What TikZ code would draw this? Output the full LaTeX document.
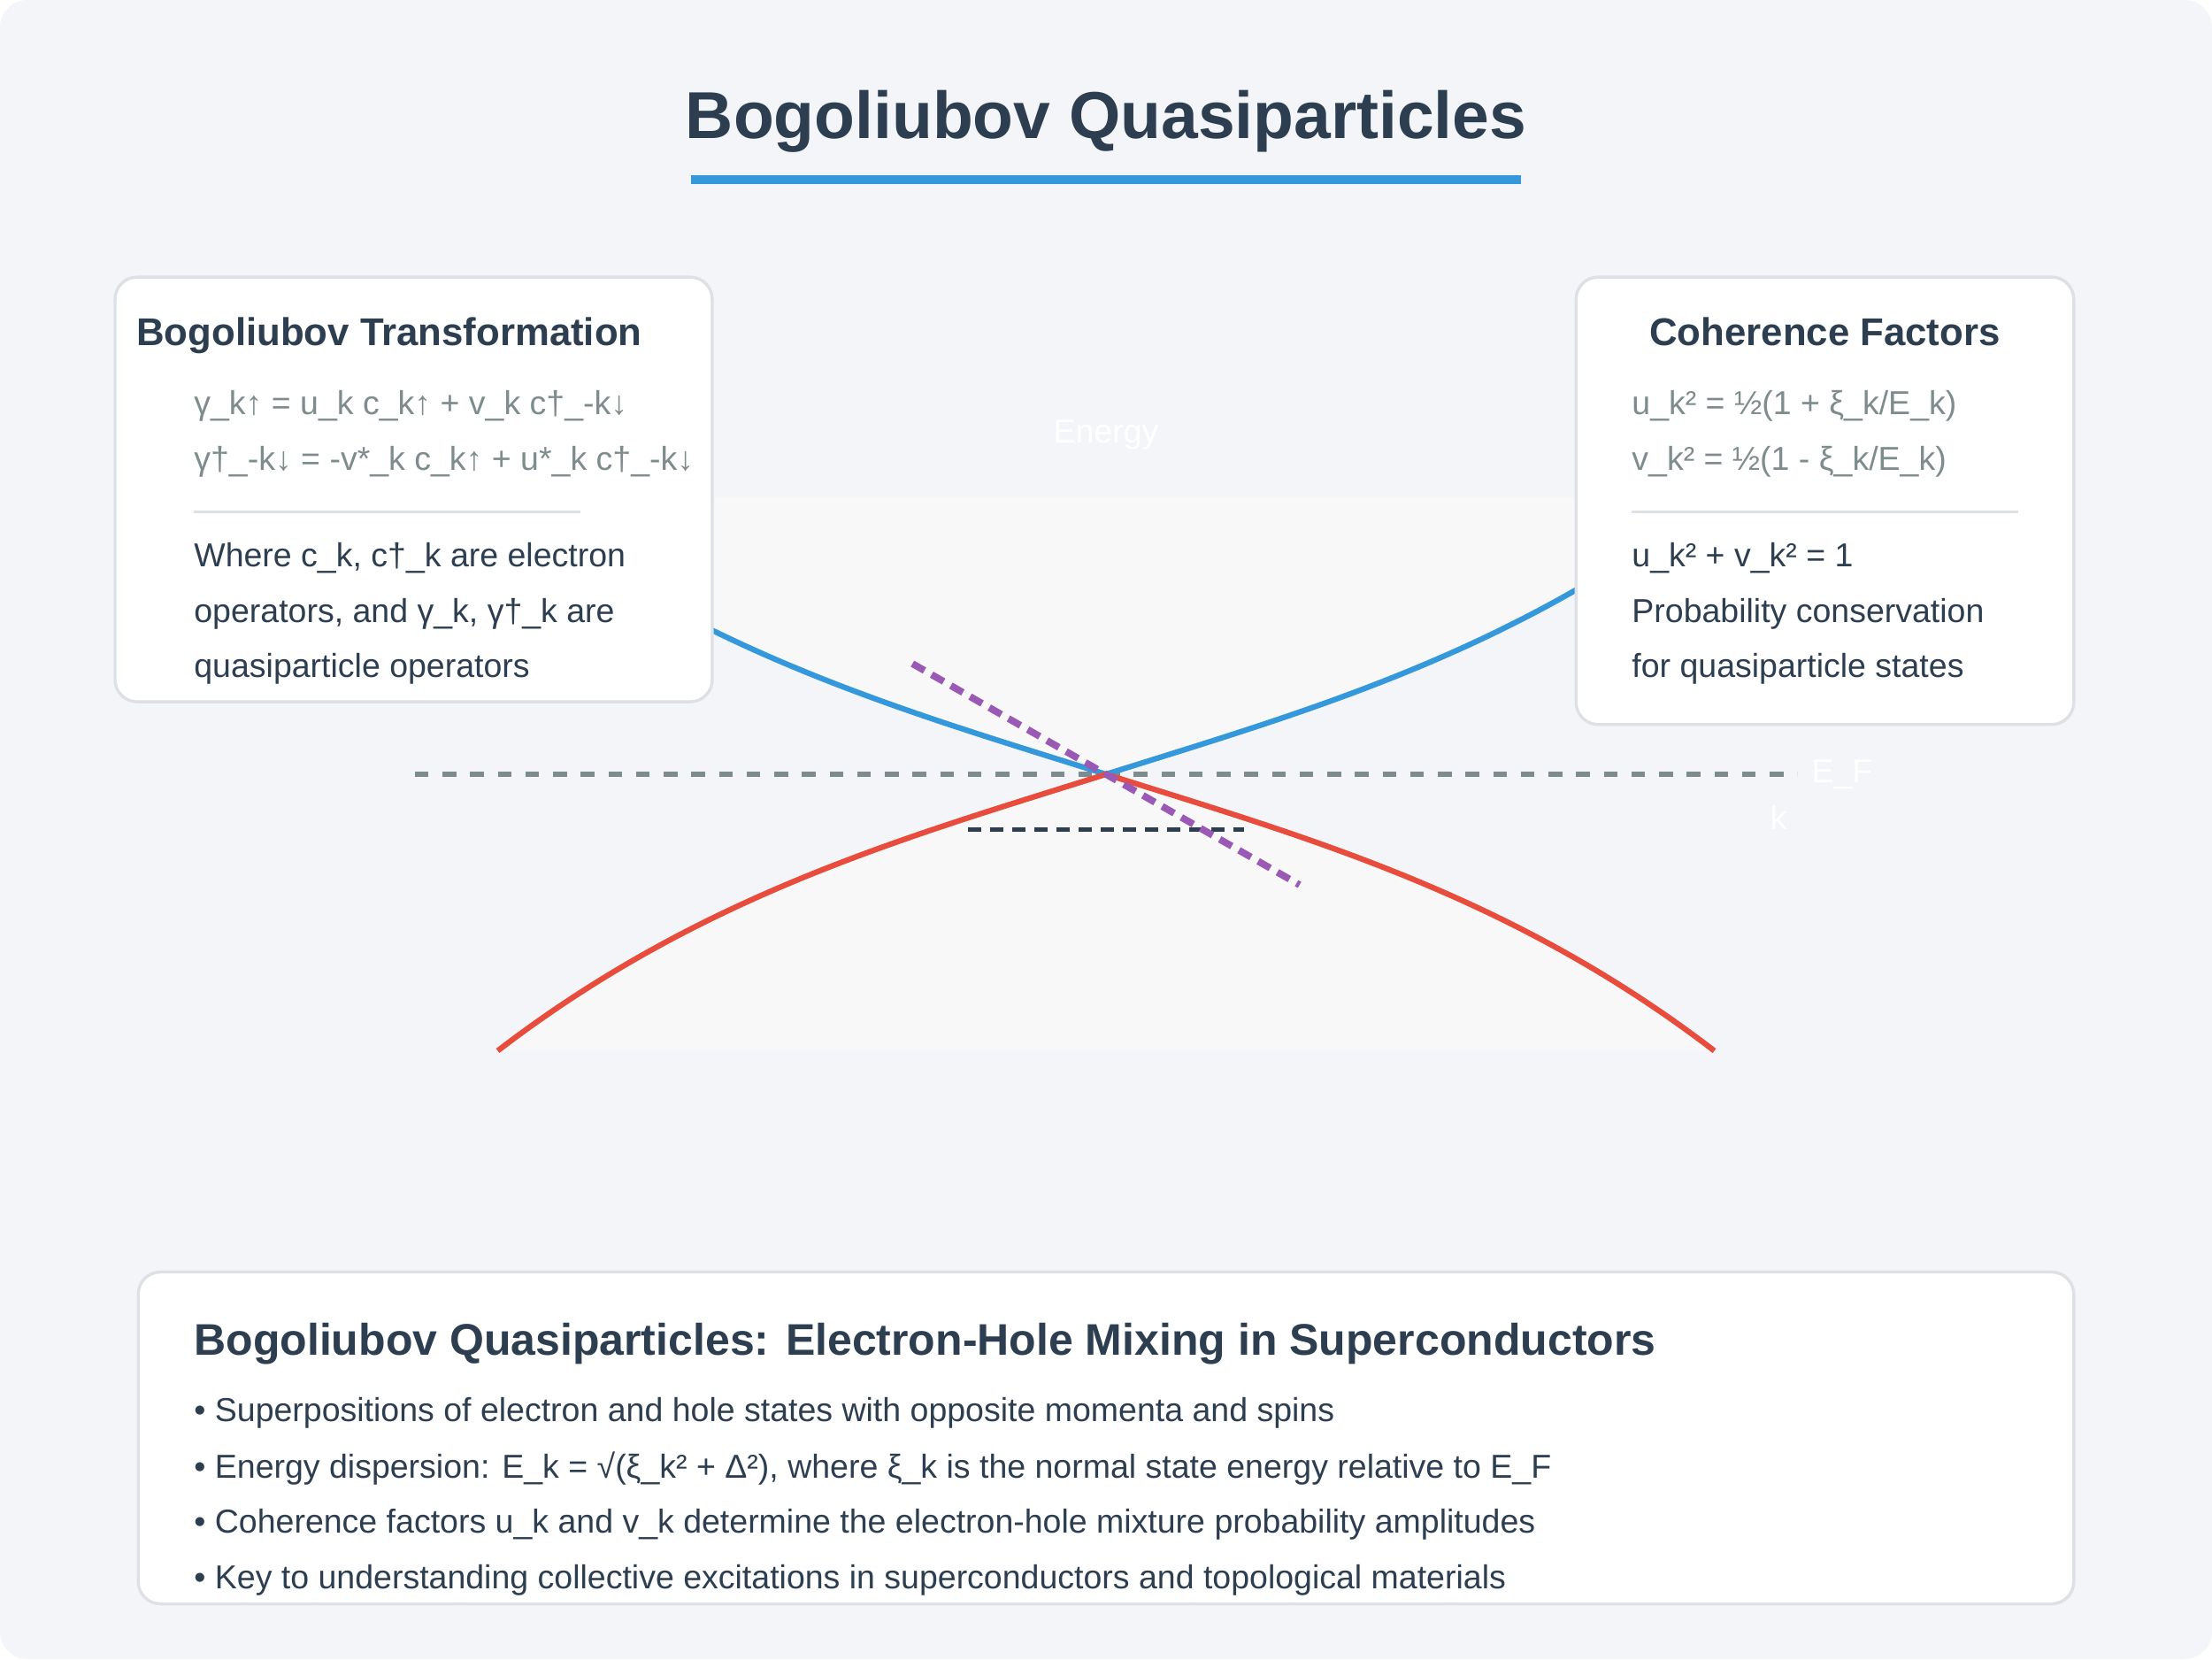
\documentclass[tikz,border=0pt]{standalone}
\usepackage{fontspec}
\setmainfont{Liberation Sans}
\definecolor{dark}{HTML}{2C3E50}
\definecolor{eqgray}{HTML}{7F8C8D}
\definecolor{accblue}{HTML}{3498DB}
\definecolor{accred}{HTML}{E74C3C}
\definecolor{accpurple}{HTML}{9B59B6}
\definecolor{cardborder}{HTML}{DDE1E6}
\definecolor{canvas}{HTML}{F4F5F9}
\definecolor{plotbg}{HTML}{F8F8F8}
\begin{document}
\begin{tikzpicture}[x=1pt,y=-1pt,
  txt/.style={inner sep=0pt, anchor=base west, font=\fontsize{12}{14}\selectfont, text=dark},
  eqtxt/.style={txt, text=eqgray},
  cardhead/.style={inner sep=0pt, font=\bfseries\fontsize{14}{16}\selectfont, text=dark},
  card/.style={draw=cardborder, line width=1.1pt, fill=white, rounded corners=8pt},
  sepline/.style={draw=cardborder, line width=1pt},
  faint/.style={inner sep=0pt, font=\fontsize{12}{14}\selectfont, text=white}]
\useasboundingbox (0,0) rectangle (800,600);
\fill[white] (0,0) rectangle (800,600);
\fill[canvas, rounded corners=10pt] (0,0) rectangle (800,600);

% title
\node[inner sep=0pt, anchor=base, font=\bfseries\fontsize{24}{28}\selectfont, text=dark] (title) at (400,50) {Bogoliubov Quasiparticles};
\draw[accblue, line width=3pt] (250,65) -- (550,65);

% plot
\coordinate (vertex) at (400,280);
\node[faint, anchor=base] (energy) at (400,160) {Energy};
% light fills enclosed by the bands
\fill[plotbg] (180,180) .. controls (253.33,236.28) and (326.67,256.94) .. (vertex)
  .. controls (473.33,256.94) and (546.67,236.28) .. (620,180) -- cycle;
\fill[plotbg] (180,380) .. controls (253.33,323.72) and (326.67,303.06) .. (vertex)
  .. controls (473.33,303.06) and (546.67,323.72) .. (620,380) -- cycle;

\coordinate (efl) at (150,280);
\coordinate (efr) at (650,280);
\draw[eqgray, line width=2pt, dash pattern=on 5pt off 5pt] (efl) -- (efr);
\node[faint, anchor=base west] (ef) at (655,283) {E\_F};
\node[faint, anchor=base west] (klab) at (640,300) {k};

% bands
\draw[accblue, line width=2pt] (180,180) .. controls (253.33,236.28) and (326.67,256.94) .. (vertex)
  .. controls (473.33,256.94) and (546.67,236.28) .. (620,180);
\draw[accred, line width=2pt] (180,380) .. controls (253.33,323.72) and (326.67,303.06) .. (vertex)
  .. controls (473.33,303.06) and (546.67,323.72) .. (620,380);

\coordinate (gapl) at (350,300);
\coordinate (gapr) at (450,300);
\draw[dark, line width=1.8pt, dash pattern=on 5pt off 3pt] (gapl) -- (gapr);
\coordinate (mixa) at (330,240);
\coordinate (mixb) at (470,320);
\draw[accpurple, line width=2.5pt, dash pattern=on 5pt off 3pt] (mixa) -- (mixb);

% left card
\draw[card] (41.6,100.2) rectangle (257.6,253.8);
\node[cardhead, anchor=base west] (lhead) at (49.2,125) {Bogoliubov Transformation};
\node[eqtxt] (leq1) at (70,150) {γ\_k↑ = u\_k c\_k↑ + v\_k c†\_-k↓};
\node[eqtxt] (leq2) at (70,170) {γ†\_-k↓ = -v*\_k c\_k↑ + u*\_k c†\_-k↓};
\draw[sepline] (70,185) -- (210,185);
\node[txt] (l1) at (70,205) {Where c\_k, c†\_k are electron};
\node[txt] (l2) at (70,225) {operators, and γ\_k, γ†\_k are};
\node[txt] (l3) at (70,245) {quasiparticle operators};

% right card
\draw[card] (570,100.2) rectangle (750,262);
\node[cardhead, anchor=base] (rhead) at (660,125) {Coherence Factors};
\node[eqtxt] (req1) at (590,150) {u\_k² = ½(1 + ξ\_k/E\_k)};
\node[eqtxt] (req2) at (590,170) {v\_k² = ½(1 - ξ\_k/E\_k)};
\draw[sepline] (590,185) -- (730,185);
\node[txt] (r1) at (590,205) {u\_k² + v\_k² = 1};
\node[txt] (r2) at (590,225) {Probability conservation};
\node[txt] (r3) at (590,245) {for quasiparticle states};

% bottom card
\draw[card] (50,460) rectangle (750,580);
\node[inner sep=0pt, anchor=base west, font=\bfseries\fontsize{16}{19}\selectfont, text=dark] (bhead) at (70,490) {Bogoliubov Quasiparticles: Electron-Hole Mixing in Superconductors};
\node[txt] (b1) at (70,514) {• Superpositions of electron and hole states with opposite momenta and spins};
\node[txt] (b2) at (70,534.5) {• Energy dispersion: E\_k = √(ξ\_k² + Δ²), where ξ\_k is the normal state energy relative to E\_F};
\node[txt] (b3) at (70,554.5) {• Coherence factors u\_k and v\_k determine the electron-hole mixture probability amplitudes};
\node[txt] (b4) at (70,574.5) {• Key to understanding collective excitations in superconductors and topological materials};
\end{tikzpicture}
\end{document}
